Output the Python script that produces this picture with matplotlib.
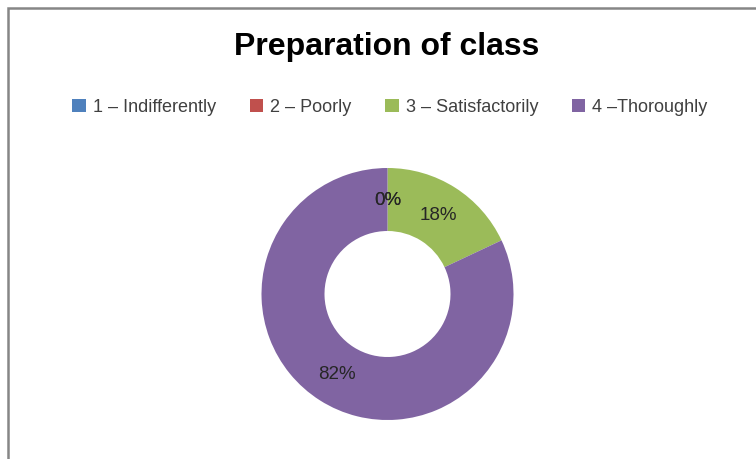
#!/usr/bin/env python3

from matplotlib import pyplot as plt
from matplotlib.patches import Patch, Rectangle

categories = ["1 \u2013 Indifferently", "2 \u2013 Poorly", "3 \u2013 Satisfactorily", "4 \u2013Thoroughly"]
shares = [0, 0, 18, 82]
colors = ["#4F81BD", "#C0504D", "#9BBB59", "#8064A2"]

plt.rcParams["font.family"] = ["Liberation Sans", "DejaVu Sans"]


def main():
    W, H = 756, 460
    fig = plt.figure(figsize=(W / 100, H / 100), dpi=100)

    # chart frame (grey line on the top and left)
    fig.patches.append(Rectangle((8 / W, -0.1), 1.2, 1 - 9 / H + 0.1, transform=fig.transFigure,
                                 fill=False, edgecolor="#868686", linewidth=1.8))

    cx, cy, r = 387.5, 295, 126
    ax = fig.add_axes([(cx - r) / W, (H - cy - r) / H, 2 * r / W, 2 * r / H])
    wedges, texts, autotexts = ax.pie(
        shares, colors=colors, startangle=90, counterclock=False,
        radius=1, wedgeprops=dict(width=0.5, linewidth=0),
        autopct=lambda p: f"{p:.0f}%", pctdistance=0.75,
        textprops=dict(fontsize=13.5, color="#262626"))
    ax.set_xlim(-1, 1)
    ax.set_ylim(-1, 1)
    ax.set_aspect("equal")
    ax.axis("off")

    fig.text(386.5 / W, 1 - 47 / H, "Preparation of class", ha="center", va="center",
             fontsize=23, fontweight="bold", color="black")

    handles = [Patch(facecolor=c, edgecolor="none") for c in colors]
    fig.legend(handles, categories, loc="center", bbox_to_anchor=(390 / W, 1 - 108 / H),
               ncol=4, frameon=False, fontsize=13, handlelength=0.75, handleheight=0.75,
               handletextpad=0.4, columnspacing=1.85, labelcolor="#404040")

    fig.savefig("out.png", dpi=100, facecolor="white")


if __name__ == "__main__":
    main()
